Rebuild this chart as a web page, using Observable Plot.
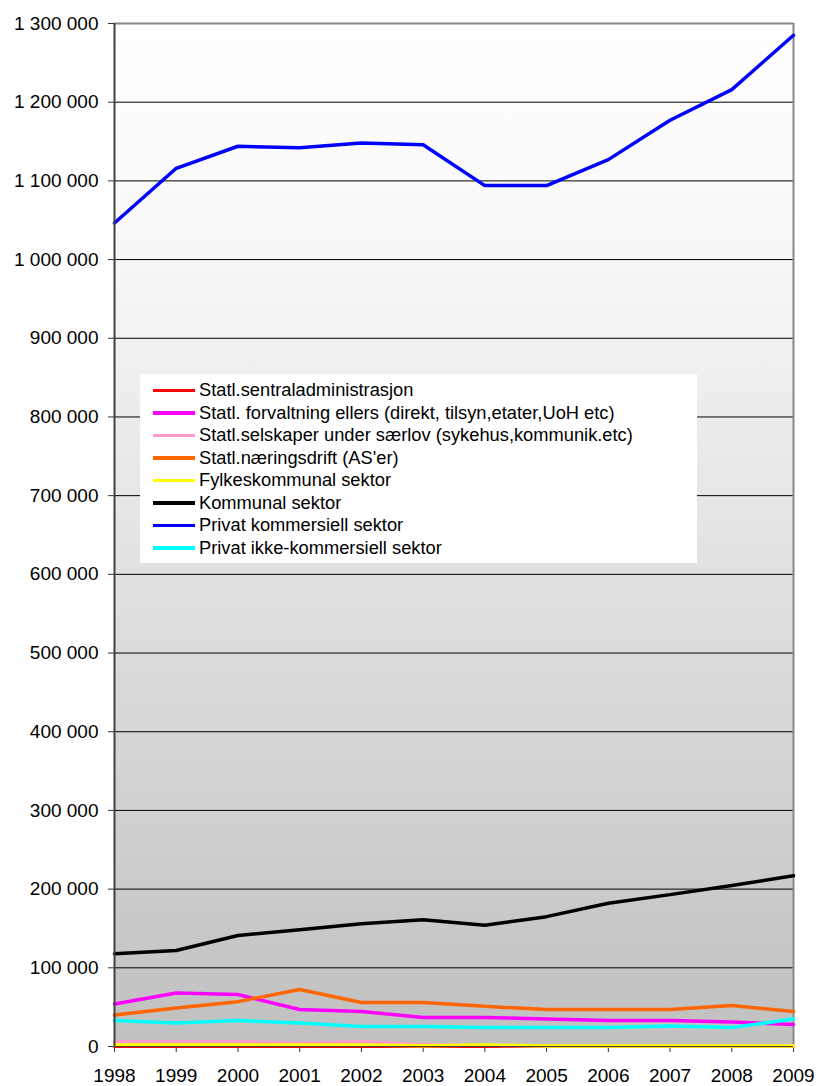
<!DOCTYPE html>
<html>
<head>
<meta charset="utf-8">
<script src="https://cdn.jsdelivr.net/npm/d3@7"></script>
<script src="https://cdn.jsdelivr.net/npm/@observablehq/plot@0.6"></script>
<style>
  html, body { margin: 0; padding: 0; background: #fff; }
  #wrap { position: relative; width: 819px; height: 1086px; font-family: "Liberation Sans", Arial, sans-serif; }
  #legend { position: absolute; left: 140px; top: 374px; width: 557px; height: 189px; background: #fff; box-sizing: border-box; padding-top: 5px; }
  .item { display: flex; align-items: center; height: 22.5px; font-size: 18.3px; color: #000; white-space: nowrap; }
  .sw { width: 42px; height: 3.5px; margin-left: 13px; margin-right: 4px; flex: none; }
</style>
</head>
<body>
<div id="wrap"><div id="chart"></div><div id="legend"></div></div>
<script>
const years = [1998, 1999, 2000, 2001, 2002, 2003, 2004, 2005, 2006, 2007, 2008, 2009];
const seriesNames = [
  "Statl.sentraladministrasjon",
  "Statl. forvaltning ellers (direkt, tilsyn,etater,UoH etc)",
  "Statl.selskaper under særlov (sykehus,kommunik.etc)",
  "Statl.næringsdrift (AS'er)",
  "Fylkeskommunal sektor",
  "Kommunal sektor",
  "Privat kommersiell sektor",
  "Privat ikke-kommersiell sektor"
];
const seriesColors = ["#ff0000", "#ff00ff", "#ff99cc", "#ff6600", "#ffff00", "#000000", "#0000ff", "#00ffff"];
const sentraladm   = [300, 300, 300, 300, 300, 300, 300, 300, 300, 300, 300, 300];
const forvaltning  = [54000, 68000, 66000, 47000, 44500, 37000, 37000, 35000, 33000, 33000, 31000, 28000];
const saerlov      = [6000, 6000, 6000, 4000, 6000, 2500, 1500, 1000, 1000, 1000, 1000, 1000];
const naeringsdrift = [40000, 49000, 57000, 72500, 56000, 56000, 51000, 47000, 47000, 47000, 52000, 44500];
const fylkeskommunal = [2000, 2000, 2000, 2000, 2000, 1000, 2000, 500, 500, 500, 500, 500];
const kommunal     = [118000, 122000, 141000, 148500, 156000, 161000, 154000, 165000, 182000, 193000, 204500, 217000];
const privatKomm   = [1046500, 1116000, 1144000, 1142000, 1148000, 1146000, 1094000, 1094000, 1127000, 1177000, 1216000, 1285000];
const privatIkke   = [33000, 30000, 33000, 30000, 25500, 25500, 24000, 24000, 24000, 26000, 24000, 35000];
const yTicks = [0, 100000, 200000, 300000, 400000, 500000, 600000, 700000, 800000, 900000, 1000000, 1100000, 1200000, 1300000];

const allSeries = [sentraladm, forvaltning, saerlov, naeringsdrift, fylkeskommunal, kommunal, privatKomm, privatIkke];
const data = [];
allSeries.forEach((vals, i) => vals.forEach((v, j) => data.push({series: seriesNames[i], year: years[j], value: v})));

const fmt = d => d3.format(",")(d).replace(/,/g, " ");

function gradientDefs() {
  const ns = "http://www.w3.org/2000/svg";
  const defs = document.createElementNS(ns, "defs");
  const lg = document.createElementNS(ns, "linearGradient");
  lg.setAttribute("id", "bggrad");
  lg.setAttribute("x1", "0"); lg.setAttribute("y1", "0");
  lg.setAttribute("x2", "0"); lg.setAttribute("y2", "1");
  [["0%", "#ffffff"], ["20%", "#f9f9f9"], ["100%", "#c0c0c0"]].forEach(([o, c]) => {
    const s = document.createElementNS(ns, "stop");
    s.setAttribute("offset", o); s.setAttribute("stop-color", c);
    lg.appendChild(s);
  });
  defs.appendChild(lg);
  return defs;
}

const chart = Plot.plot({
  width: 819,
  height: 1086,
  marginLeft: 114,
  marginRight: 26,
  marginTop: 23,
  marginBottom: 40,
  style: {fontFamily: "'Liberation Sans', Arial, sans-serif", fontSize: "19px", color: "#000", background: "transparent"},
  x: {domain: [1998, 2009]},
  y: {domain: [0, 1300000]},
  color: {domain: seriesNames, range: seriesColors},
  marks: [
    gradientDefs,
    Plot.frame({fill: "url(#bggrad)", stroke: "none"}),
    Plot.ruleY(yTicks.filter(d => d > 0 && d < 1300000), {stroke: "#000", strokeWidth: 1}),
    Plot.ruleY([1300000], {stroke: "#888", strokeWidth: 2}),
    Plot.ruleX([2009], {stroke: "#888", strokeWidth: 2}),
    Plot.axisY({ticks: yTicks, tickFormat: fmt, tickSize: 6, tickPadding: 10, label: null, fontSize: 19, stroke: "#333"}),
    Plot.axisX({ticks: years, tickFormat: d => String(d), tickSize: 6, tickPadding: 16, label: null, fontSize: 19, stroke: "#333"}),
    Plot.line(data, {x: "year", y: "value", z: "series", stroke: "series", strokeWidth: 3.5, strokeLinejoin: "miter"}),
    Plot.ruleX([1998], {stroke: "#404040", strokeWidth: 2}),
    Plot.ruleY([0], {stroke: "#404040", strokeWidth: 1})
  ]
});
document.getElementById("chart").appendChild(chart);

const legend = document.getElementById("legend");
seriesNames.forEach((name, i) => {
  const row = document.createElement("div");
  row.className = "item";
  const sw = document.createElement("span");
  sw.className = "sw";
  sw.style.background = seriesColors[i];
  const t = document.createElement("span");
  t.textContent = name;
  row.appendChild(sw); row.appendChild(t);
  legend.appendChild(row);
});
</script>
</body>
</html>
